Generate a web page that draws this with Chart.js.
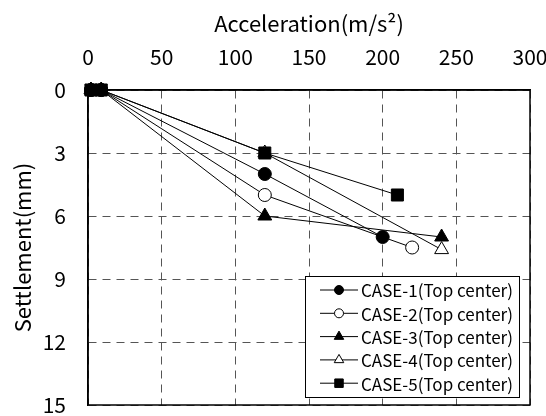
<!DOCTYPE html>
<html><head><meta charset="utf-8">
<script src="https://cdn.jsdelivr.net/npm/chart.js@4/dist/chart.umd.min.js"></script>
<style>html,body{margin:0;padding:0;background:#fff}#wrap{width:546px;height:416px}</style>
</head><body><div id="wrap"><canvas id="c" width="546" height="416"></canvas></div>
<script>
const seriesLabels = ['CASE-1(Top center)','CASE-2(Top center)','CASE-3(Top center)','CASE-4(Top center)','CASE-5(Top center)'];
const case1Accel = [2, 9, 120, 200];
const case1Settle = [0, 0, 4, 7];
const case2Accel = [2, 9, 120, 220];
const case2Settle = [0, 0, 5, 7.5];
const case3Accel = [2, 9, 120, 240];
const case3Settle = [0, 0, 6, 7];
const case4Accel = [2, 9, 120, 240];
const case4Settle = [0, 0, 3, 7.6];
const case5Accel = [2, 9, 120, 210];
const case5Settle = [0, 0, 3, 5];
const xTicks = [0, 50, 100, 150, 200, 250, 300];
const yTicks = [0, 3, 6, 9, 12, 15];

const FONT = '"Noto Sans CJK JP", "DejaVu Sans", sans-serif';
function pts(xs, ys){ return xs.map((x,i)=>({x:x, y:ys[i]})); }
const styles = [
  {pointStyle:'circle', fill:'#000', r:6.5, lr:4.5, order:1},
  {pointStyle:'circle', fill:'#fff', r:6.5, lr:4.5, order:1},
  {pointStyle:'triangle', fill:'#000', r:8, lr:5.5, order:1},
  {pointStyle:'triangle', fill:'#fff', r:8, lr:5.5, order:2},
  {pointStyle:'rect', fill:'#000', r:8.5, lr:6, order:0}
];
const allData = [pts(case1Accel,case1Settle),pts(case2Accel,case2Settle),pts(case3Accel,case3Settle),pts(case4Accel,case4Settle),pts(case5Accel,case5Settle)];
const datasets = allData.map((d,i)=>({
  label: seriesLabels[i], data: d, showLine: true,
  borderColor:'#000', borderWidth:1, backgroundColor: styles[i].fill,
  pointStyle: styles[i].pointStyle, pointRadius: styles[i].r, pointBorderColor:'#000',
  pointBackgroundColor: styles[i].fill, pointBorderWidth:1, order: styles[i].order, clip:false, tension:0
}));

const frameLegend = {
  id:'frameLegend',
  afterDatasetsDraw(chart){
    const ctx = chart.ctx, a = chart.chartArea;
    ctx.save();
    ctx.strokeStyle='#000'; ctx.lineWidth=1.5; ctx.setLineDash([]);
    ctx.strokeRect(a.left, a.top, a.right-a.left, a.bottom-a.top);
    const bx=305, by=276, bw=214, bh=121;
    ctx.fillStyle='#fff'; ctx.fillRect(bx,by,bw,bh);
    ctx.lineWidth=1; ctx.strokeRect(bx+0.5,by+0.5,bw,bh);
    ctx.font = '17px ' + FONT; ctx.textBaseline='middle'; ctx.textAlign='left';
    chart.data.datasets.forEach((ds,i)=>{
      const y = 290 + i*23.3;
      ctx.strokeStyle='#000'; ctx.lineWidth=1;
      ctx.beginPath(); ctx.moveTo(320,y); ctx.lineTo(358,y); ctx.stroke();
      ctx.fillStyle = styles[i].fill;
      Chart.helpers.drawPoint(ctx,{pointStyle:ds.pointStyle, radius:styles[i].lr, borderWidth:1, rotation:0}, 339, y);
      ctx.fillStyle='#000';
      ctx.fillText(ds.label, 361, y+1);
    });
    ctx.restore();
  }
};

new Chart(document.getElementById('c'), {
  type:'scatter',
  data:{datasets},
  options:{
    responsive:false, animation:false, devicePixelRatio:1,
    layout:{padding:{left:0, right:16, top:0, bottom:11}},
    plugins:{legend:{display:false}, tooltip:{enabled:false}},
    scales:{
      x:{type:'linear', position:'top', min:0, max:300,
        afterFit(s){ s.height = 90; s.paddingLeft = 0; s.paddingRight = 0; },
        afterBuildTicks(s){ s.ticks = xTicks.map(v=>({value:v})); },
        ticks:{color:'#000', font:{family:FONT, size:21}, padding:20, maxRotation:0},
        grid:{color:'#555', lineWidth:1, drawTicks:false},
        border:{display:true, color:'#000', width:1.5, dash:[8,6]},
        title:{display:true, text:'Acceleration(m/s²)', color:'#000', font:{family:FONT, size:22}, padding:{top:10,bottom:0}}
      },
      y:{type:'linear', reverse:true, min:0, max:15,
        afterFit(s){ s.width = 88; s.paddingTop = 0; s.paddingBottom = 0; },
        afterBuildTicks(s){ s.ticks = yTicks.map(v=>({value:v})); },
        ticks:{color:'#000', font:{family:FONT, size:21}, padding:22},
        grid:{color:'#555', lineWidth:1, drawTicks:false},
        border:{display:true, color:'#000', width:1.5, dash:[8,6]},
        title:{display:true, text:'Settlement(mm)', color:'#000', font:{family:FONT, size:22}, padding:{top:9,bottom:0}}
      }
    }
  },
  plugins:[frameLegend]
});
</script></body></html>
